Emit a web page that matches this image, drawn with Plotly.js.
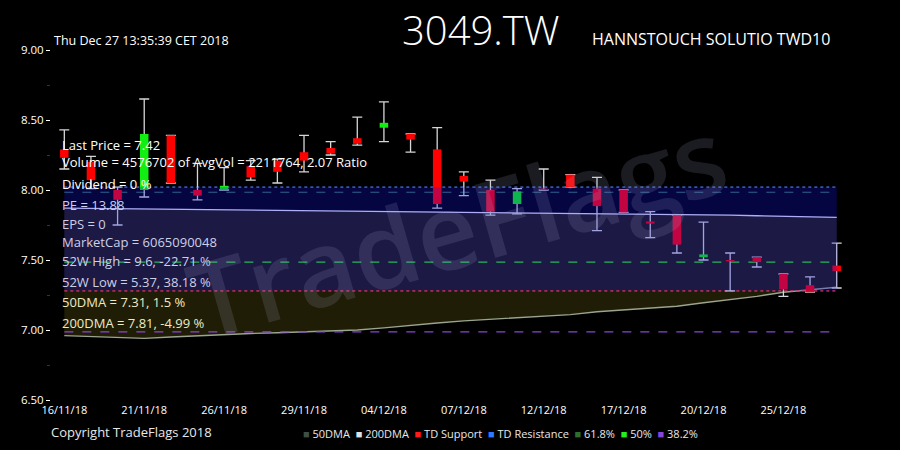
<!DOCTYPE html>
<html>
<head>
<meta charset="utf-8">
<script src="https://cdn.plot.ly/plotly-3.0.1.min.js"></script>
<style>html,body{margin:0;padding:0;background:#000;}#chart{width:900px;height:450px;}</style>
</head>
<body>
<div id="chart"></div>
<script>
// ---- data ----
const dates = ["16/11/18","19/11/18","20/11/18","21/11/18","22/11/18","23/11/18","26/11/18","27/11/18","28/11/18","29/11/18",
  "30/11/18","03/12/18","04/12/18","05/12/18","06/12/18","07/12/18","10/12/18","11/12/18","12/12/18","13/12/18",
  "14/12/18","17/12/18","18/12/18","19/12/18","20/12/18","21/12/18","24/12/18","25/12/18","26/12/18","27/12/18"];
const opens  = [8.29,8.20,8.00,8.00,8.39,8.00,8.00,8.17,8.21,8.27,8.30,8.37,8.445,8.40,8.29,8.10,8.00,7.90,8.01,8.11,8.01,8.00,7.775,7.82,7.52,7.50,7.52,7.40,7.32,7.46];
const highs  = [8.43,8.24,8.02,8.65,8.39,8.19,8.16,8.21,8.22,8.39,8.345,8.52,8.63,8.40,8.445,8.13,8.07,8.01,8.15,8.11,8.09,8.00,7.845,7.82,7.77,7.55,7.52,7.40,7.38,7.62];
const lows   = [8.15,8.01,7.75,7.95,8.05,7.93,8.00,8.07,8.05,8.13,8.25,8.32,8.345,8.27,7.87,7.96,7.82,7.83,8.00,8.02,7.71,7.84,7.66,7.55,7.50,7.28,7.45,7.24,7.27,7.30];
const closes = [8.23,8.07,7.93,8.40,8.05,7.96,8.03,8.09,8.13,8.21,8.26,8.33,8.48,8.36,7.90,8.06,7.845,7.99,8.00,8.02,7.885,7.84,7.76,7.61,7.54,7.49,7.485,7.29,7.27,7.42];
const dma50  = [6.96,6.955,6.945,6.94,6.95,6.96,6.97,6.975,6.98,6.985,6.99,7.00,7.015,7.035,7.05,7.065,7.075,7.085,7.095,7.11,7.13,7.145,7.16,7.17,7.195,7.215,7.24,7.27,7.29,7.305];
const dma200 = [7.87,7.868,7.866,7.864,7.862,7.86,7.858,7.856,7.854,7.852,7.85,7.849,7.848,7.847,7.846,7.845,7.843,7.841,7.839,7.837,7.835,7.832,7.829,7.826,7.823,7.82,7.816,7.812,7.808,7.805];
const tdSupport = 7.28;
const tdResistance = 8.02;
const fib618 = 7.984, fib50 = 7.485, fib382 = 6.986;
const xTicks = ["16/11/18","21/11/18","26/11/18","29/11/18","04/12/18","07/12/18","12/12/18","17/12/18","20/12/18","25/12/18"];
const infoLines = ["Last Price = 7.42","Volume = 4576702 of AvgVol = 2211764, 2.07 Ratio","Dividend = 0 %","PE = 13.88","EPS = 0",
  "MarketCap = 6065090048","52W High = 9.6, -22.71 %","52W Low = 5.37, 38.18 %","50DMA = 7.31, 1.5 %","200DMA = 7.81, -4.99 %"];
const legendNames = ["50DMA","200DMA","TD Support","TD Resistance","61.8%","50%","38.2%"];
const legendColors = ["#3e4f47","#e2e2e2","#ff1a1a","#2f7bff","#2e6e2e","#22ee22","#8a44d6"];

// ---- derived ----
const bodyBase = opens.map((o,i)=>Math.min(o,closes[i]));
const bodyLen = opens.map((o,i)=>Math.max(Math.abs(closes[i]-o),0.006));
const bodyCol = opens.map((o,i)=>closes[i]>=o ? '#11ee11' : '#ff0000');
const wickLow = highs.map((h,i)=>h-lows[i]);
const zeros = highs.map(()=>0);
const first = dates[0], last = dates[dates.length-1];

const font = "Open Sans, Noto Sans, sans-serif";

const traces = [
  {type:'scatter', mode:'lines', x:dates, y:dma50, line:{color:'#9aa48e', width:1.4}, showlegend:false, hoverinfo:'skip'},
  {type:'scatter', mode:'lines', x:dates, y:dma200, line:{color:'#e4e4f4', width:1.3}, fill:'tonexty',
    fillcolor:'rgba(255,240,40,0.12)', showlegend:false, hoverinfo:'skip'},
  {type:'scatter', mode:'lines', x:[first,last], y:[tdResistance,tdResistance], line:{color:'#4f7dff', width:1.2, dash:'dot'}, showlegend:false},
  {type:'scatter', mode:'lines', x:[first,last], y:[tdSupport,tdSupport], line:{color:'#ff3a3a', width:1.2, dash:'dot'}, showlegend:false},
  {type:'scatter', mode:'lines', x:[first,last], y:[fib618,fib618], line:{color:'#3a7d6a', width:1.2, dash:'dash'}, showlegend:false},
  {type:'scatter', mode:'lines', x:[first,last], y:[fib50,fib50], line:{color:'#30ee20', width:1.2, dash:'dash'}, showlegend:false},
  {type:'scatter', mode:'lines', x:[first,last], y:[fib382,fib382], line:{color:'#8a44d6', width:1.2, dash:'dash'}, showlegend:false},
  {type:'scatter', mode:'markers', x:dates, y:highs, marker:{size:1, opacity:0}, zorder:1,
    error_y:{type:'data', symmetric:false, array:zeros, arrayminus:wickLow, color:'#d6d6d6', thickness:1.3, width:5},
    showlegend:false},
  {type:'bar', x:dates, y:bodyLen, base:bodyBase, width:0.32, marker:{color:bodyCol, line:{width:0}}, zorder:2, showlegend:false}
];

const annotations = [];
const infoY = [145,162,184,205,224,242,261,282,302,323];
const infoCol = ["#ffffff","#ffffff","#ffffff","#cfcfe6","#cfcfe6","#cfcfe6","#cfcfe6","#cfcfe6","#ecebc8","#ecebc8"];
infoLines.forEach((t,i)=>annotations.push({xref:'paper', yref:'paper', x:0.011, y:(400-infoY[i])/350, xanchor:'left', yanchor:'middle',
  text:t, showarrow:false, font:{family:font, size:13, color:infoCol[i]}}));
annotations.push({xref:'paper', yref:'paper', x:0.001, y:(400-40)/350, xanchor:'left', yanchor:'middle', showarrow:false,
  text:"Thu Dec 27 13:35:39 CET 2018", font:{family:font, size:12.5, color:'#ffffff'}});
annotations.push({xref:'paper', yref:'paper', x:(481-51)/799, y:(400-30)/350, xanchor:'center', yanchor:'middle', showarrow:false,
  text:"3049.TW", font:{family:font, size:40, color:'#ffffff', weight:300}});
annotations.push({xref:'paper', yref:'paper', x:(590-51)/799, y:(400-39)/350, xanchor:'left', yanchor:'middle', showarrow:false,
  text:"HANNSTOUCH SOLUTIO TWD10", font:{family:font, size:16, color:'#ffffff'}});
annotations.push({xref:'paper', yref:'paper', x:-0.002, y:(400-432)/350, xanchor:'left', yanchor:'middle', showarrow:false,
  text:"Copyright TradeFlags 2018", font:{family:font, size:13, color:'#e8e8e8'}});
annotations.push({xref:'paper', yref:'paper', x:(501-51)/799, y:(400-433)/350, xanchor:'center', yanchor:'middle', showarrow:false,
  text: legendNames.map((n,i)=>'<span style="color:'+legendColors[i]+'">■</span> '+n).join('&nbsp;&nbsp;'),
  font:{family:font, size:11, color:'#e8e8e8'}});
annotations.push({xref:'paper', yref:'paper', x:(457-51)/799, y:(400-226)/350, xanchor:'center', yanchor:'middle', showarrow:false,
  text:"TradeFlags", textangle:-16, font:{family:font, size:106, color:'rgba(170,170,210,0.16)', weight:600}});

const layout = {
  width:900, height:450,
  paper_bgcolor:'#000', plot_bgcolor:'#000',
  margin:{l:51, r:50, t:50, b:50},
  showlegend:false,
  xaxis:{type:'category', categoryorder:'array', categoryarray:dates, range:[-0.5, dates.length-0.5],
    tickmode:'array', tickvals:xTicks, ticktext:xTicks, showgrid:false, zeroline:false,
    showline:true, linecolor:'#ffffff', linewidth:1, ticks:'', tickfont:{family:font, size:11, color:'#ffffff'}},
  yaxis:{range:[6.5,9.0], dtick:0.5, tick0:6.5, tickformat:'.2f', showgrid:false, zeroline:false,
    showline:true, linecolor:'#ffffff', linewidth:1, ticks:'outside', ticklen:4, tickcolor:'#ffffff',
    tickfont:{family:font, size:11.5, color:'#ffffff'},
    minor:{dtick:0.25, tick0:6.5, ticks:'outside', ticklen:3, tickcolor:'#b00000'}},
  shapes:[{type:'rect', xref:'x', yref:'y', x0:first, x1:last, y0:tdSupport, y1:tdResistance,
    fillcolor:'rgba(20,20,255,0.26)', line:{width:0}, layer:'above'}],
  annotations: annotations
};

Plotly.newPlot('chart', traces, layout, {displayModeBar:false, staticPlot:true});
</script>
</body>
</html>
